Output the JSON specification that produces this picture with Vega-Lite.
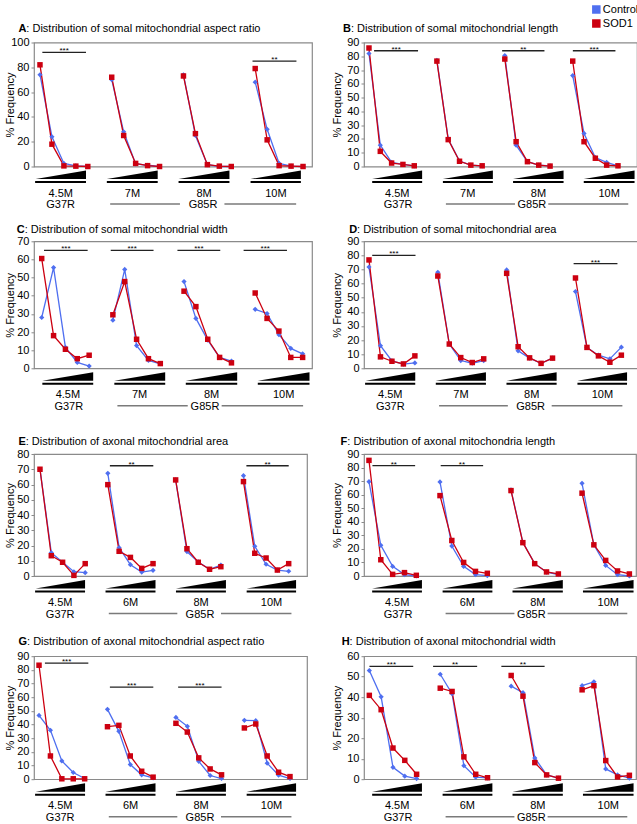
{
"$schema": "https://vega.github.io/schema/vega-lite/v6.json",
"padding": {"left": 3, "top": 2.5, "right": 0, "bottom": 0},
"config": {
  "font": "Liberation Sans",
  "view": {"stroke": "#8a8a8a", "strokeWidth": 1.2},
  "axis": {"labelFont": "Liberation Sans", "labelFontSize": 11, "labelColor": "#000", "titleFont": "Liberation Sans", "titleFontSize": 11, "titleFontWeight": "normal", "titleColor": "#000", "tickColor": "#8a8a8a", "tickSize": 3, "domain": false, "grid": false, "labelPadding": 2},
  "text": {"font": "Liberation Sans", "fontSize": 11, "color": "#000"}
},
"datasets": {
"pts": [
{"p":"A","g":0,"c":0,"Control":74,"SOD1":82},{"p":"A","g":0,"c":1,"Control":24,"SOD1":18},{"p":"A","g":0,"c":2,"Control":2.5,"SOD1":0.5},{"p":"A","g":0,"c":3,"Control":0.5,"SOD1":0.3},{"p":"A","g":0,"c":4,"Control":0,"SOD1":0},
{"p":"A","g":1,"c":6,"Control":70,"SOD1":72},{"p":"A","g":1,"c":7,"Control":28,"SOD1":25},{"p":"A","g":1,"c":8,"Control":2,"SOD1":2.5},{"p":"A","g":1,"c":9,"Control":1,"SOD1":0.7},{"p":"A","g":1,"c":10,"Control":0,"SOD1":0},
{"p":"A","g":2,"c":12,"Control":74,"SOD1":73},{"p":"A","g":2,"c":13,"Control":25,"SOD1":26.5},{"p":"A","g":2,"c":14,"Control":1.5,"SOD1":1.5},{"p":"A","g":2,"c":15,"Control":0,"SOD1":0.3},{"p":"A","g":2,"c":16,"Control":0,"SOD1":0},
{"p":"A","g":3,"c":18,"Control":68,"SOD1":79},{"p":"A","g":3,"c":19,"Control":30,"SOD1":21.5},{"p":"A","g":3,"c":20,"Control":2.5,"SOD1":0.7},{"p":"A","g":3,"c":21,"Control":0.3,"SOD1":0.3},{"p":"A","g":3,"c":22,"Control":0,"SOD1":0},
{"p":"B","g":0,"c":0,"Control":82,"SOD1":86},{"p":"B","g":0,"c":1,"Control":15.5,"SOD1":11},{"p":"B","g":0,"c":2,"Control":3,"SOD1":2.5},{"p":"B","g":0,"c":3,"Control":1.5,"SOD1":1.5},{"p":"B","g":0,"c":4,"Control":0.5,"SOD1":0.5},
{"p":"B","g":1,"c":6,"Control":77,"SOD1":76.5},{"p":"B","g":1,"c":7,"Control":20,"SOD1":19.5},{"p":"B","g":1,"c":8,"Control":4,"SOD1":3.8},{"p":"B","g":1,"c":9,"Control":1,"SOD1":1},{"p":"B","g":1,"c":10,"Control":0.5,"SOD1":0.5},
{"p":"B","g":2,"c":12,"Control":80.5,"SOD1":78},{"p":"B","g":2,"c":13,"Control":15.5,"SOD1":18},{"p":"B","g":2,"c":14,"Control":3.5,"SOD1":3.5},{"p":"B","g":2,"c":15,"Control":1,"SOD1":1},{"p":"B","g":2,"c":16,"Control":0.5,"SOD1":0.3},
{"p":"B","g":3,"c":18,"Control":66,"SOD1":76.5},{"p":"B","g":3,"c":19,"Control":24,"SOD1":18},{"p":"B","g":3,"c":20,"Control":6.5,"SOD1":6},{"p":"B","g":3,"c":21,"Control":3,"SOD1":1},{"p":"B","g":3,"c":22,"Control":0.5,"SOD1":0.5},
{"p":"C","g":0,"c":0,"Control":28,"SOD1":60.5},{"p":"C","g":0,"c":1,"Control":55.5,"SOD1":18},{"p":"C","g":0,"c":2,"Control":11.5,"SOD1":10.5},{"p":"C","g":0,"c":3,"Control":3.2,"SOD1":5.3},{"p":"C","g":0,"c":4,"Control":1.2,"SOD1":7.2},
{"p":"C","g":1,"c":6,"Control":26.5,"SOD1":29.5},{"p":"C","g":1,"c":7,"Control":54.5,"SOD1":47.8},{"p":"C","g":1,"c":8,"Control":12.5,"SOD1":16},{"p":"C","g":1,"c":9,"Control":4.3,"SOD1":5.3},{"p":"C","g":1,"c":10,"Control":2.5,"SOD1":2.6},
{"p":"C","g":2,"c":12,"Control":47.8,"SOD1":42.5},{"p":"C","g":2,"c":13,"Control":27.5,"SOD1":34},{"p":"C","g":2,"c":14,"Control":15.5,"SOD1":16},{"p":"C","g":2,"c":15,"Control":6,"SOD1":6},{"p":"C","g":2,"c":16,"Control":4,"SOD1":3},
{"p":"C","g":3,"c":18,"Control":32.5,"SOD1":41.5},{"p":"C","g":3,"c":19,"Control":30.2,"SOD1":27.5},{"p":"C","g":3,"c":20,"Control":18.5,"SOD1":20.5},{"p":"C","g":3,"c":21,"Control":11,"SOD1":6},{"p":"C","g":3,"c":22,"Control":8,"SOD1":6},
{"p":"D","g":0,"c":0,"Control":71.8,"SOD1":76.8},{"p":"D","g":0,"c":1,"Control":16,"SOD1":8.1},{"p":"D","g":0,"c":2,"Control":5.3,"SOD1":5},{"p":"D","g":0,"c":3,"Control":3,"SOD1":3.1},{"p":"D","g":0,"c":4,"Control":3.8,"SOD1":8.8},
{"p":"D","g":1,"c":6,"Control":68,"SOD1":65.4},{"p":"D","g":1,"c":7,"Control":17.2,"SOD1":17.2},{"p":"D","g":1,"c":8,"Control":5.5,"SOD1":7.6},{"p":"D","g":1,"c":9,"Control":3.6,"SOD1":4.1},{"p":"D","g":1,"c":10,"Control":5.5,"SOD1":6.7},
{"p":"D","g":2,"c":12,"Control":69.7,"SOD1":67.3},{"p":"D","g":2,"c":13,"Control":12.4,"SOD1":15.3},{"p":"D","g":2,"c":14,"Control":7.2,"SOD1":7.4},{"p":"D","g":2,"c":15,"Control":3.5,"SOD1":3.5},{"p":"D","g":2,"c":16,"Control":7.2,"SOD1":7.2},
{"p":"D","g":3,"c":18,"Control":54.4,"SOD1":64},{"p":"D","g":3,"c":19,"Control":14.8,"SOD1":14.8},{"p":"D","g":3,"c":20,"Control":9.3,"SOD1":8.8},{"p":"D","g":3,"c":21,"Control":6.7,"SOD1":4.3},{"p":"D","g":3,"c":22,"Control":15,"SOD1":9.3},
{"p":"E","g":0,"c":0,"Control":70,"SOD1":70},{"p":"E","g":0,"c":1,"Control":15.3,"SOD1":13.3},{"p":"E","g":0,"c":2,"Control":9,"SOD1":9},{"p":"E","g":0,"c":3,"Control":2.8,"SOD1":0.4},{"p":"E","g":0,"c":4,"Control":2.2,"SOD1":8.1},
{"p":"E","g":1,"c":6,"Control":67.3,"SOD1":59.9},{"p":"E","g":1,"c":7,"Control":18.6,"SOD1":16.2},{"p":"E","g":1,"c":8,"Control":7.4,"SOD1":12.2},{"p":"E","g":1,"c":9,"Control":2.6,"SOD1":5},{"p":"E","g":1,"c":10,"Control":3.7,"SOD1":8.1},
{"p":"E","g":2,"c":12,"Control":63,"SOD1":63},{"p":"E","g":2,"c":13,"Control":16,"SOD1":17.9},{"p":"E","g":2,"c":14,"Control":9.2,"SOD1":9},{"p":"E","g":2,"c":15,"Control":4.4,"SOD1":4.4},{"p":"E","g":2,"c":16,"Control":7.2,"SOD1":6.1},
{"p":"E","g":3,"c":18,"Control":65.8,"SOD1":61.9},{"p":"E","g":3,"c":19,"Control":19.5,"SOD1":14.9},{"p":"E","g":3,"c":20,"Control":7.7,"SOD1":11.8},{"p":"E","g":3,"c":21,"Control":3.9,"SOD1":3.9},{"p":"E","g":3,"c":22,"Control":3.1,"SOD1":8.1},
{"p":"F","g":0,"c":0,"Control":69.6,"SOD1":85.3},{"p":"F","g":0,"c":1,"Control":22.6,"SOD1":12},{"p":"F","g":0,"c":2,"Control":7.1,"SOD1":1.2},{"p":"F","g":0,"c":3,"Control":1,"SOD1":2.5},{"p":"F","g":0,"c":4,"Control":0,"SOD1":0.5},
{"p":"F","g":1,"c":6,"Control":69.4,"SOD1":59.3},{"p":"F","g":1,"c":7,"Control":22.1,"SOD1":26.2},{"p":"F","g":1,"c":8,"Control":7.1,"SOD1":10},{"p":"F","g":1,"c":9,"Control":1,"SOD1":3.4},{"p":"F","g":1,"c":10,"Control":0.3,"SOD1":2},
{"p":"F","g":2,"c":12,"Control":63.5,"SOD1":63},{"p":"F","g":2,"c":13,"Control":24.8,"SOD1":24.6},{"p":"F","g":2,"c":14,"Control":9.1,"SOD1":9.1},{"p":"F","g":2,"c":15,"Control":2.9,"SOD1":3},{"p":"F","g":2,"c":16,"Control":1,"SOD1":1.5},
{"p":"F","g":3,"c":18,"Control":68.4,"SOD1":61.1},{"p":"F","g":3,"c":19,"Control":23,"SOD1":23},{"p":"F","g":3,"c":20,"Control":7.8,"SOD1":11.5},{"p":"F","g":3,"c":21,"Control":1,"SOD1":3.7},{"p":"F","g":3,"c":22,"Control":0,"SOD1":1.5},
{"p":"G","g":0,"c":0,"Control":46.7,"SOD1":83.4},{"p":"G","g":0,"c":1,"Control":35.8,"SOD1":17},{"p":"G","g":0,"c":2,"Control":13.4,"SOD1":0.3},{"p":"G","g":0,"c":3,"Control":4.9,"SOD1":0.3},{"p":"G","g":0,"c":4,"Control":0.5,"SOD1":0.3},
{"p":"G","g":1,"c":6,"Control":51.1,"SOD1":38.4},{"p":"G","g":1,"c":7,"Control":35,"SOD1":39.4},{"p":"G","g":1,"c":8,"Control":10.7,"SOD1":17},{"p":"G","g":1,"c":9,"Control":3.2,"SOD1":5.8},{"p":"G","g":1,"c":10,"Control":1,"SOD1":1.5},
{"p":"G","g":2,"c":12,"Control":45.2,"SOD1":40.9},{"p":"G","g":2,"c":13,"Control":38.7,"SOD1":34.5},{"p":"G","g":2,"c":14,"Control":13.1,"SOD1":15.6},{"p":"G","g":2,"c":15,"Control":2.7,"SOD1":7.5},{"p":"G","g":2,"c":16,"Control":0.5,"SOD1":3.2},
{"p":"G","g":3,"c":18,"Control":43.1,"SOD1":37.5},{"p":"G","g":3,"c":19,"Control":42.8,"SOD1":40.4},{"p":"G","g":3,"c":20,"Control":11.7,"SOD1":17},{"p":"G","g":3,"c":21,"Control":2.9,"SOD1":5.1},{"p":"G","g":3,"c":22,"Control":0.5,"SOD1":1.9},
{"p":"H","g":0,"c":0,"Control":53,"SOD1":40.9},{"p":"H","g":0,"c":1,"Control":40.2,"SOD1":33.9},{"p":"H","g":0,"c":2,"Control":5.8,"SOD1":15.2},{"p":"H","g":0,"c":3,"Control":1.5,"SOD1":9.2},{"p":"H","g":0,"c":4,"Control":0.3,"SOD1":2.4},
{"p":"H","g":1,"c":6,"Control":51.2,"SOD1":44.4},{"p":"H","g":1,"c":7,"Control":41.7,"SOD1":42.8},{"p":"H","g":1,"c":8,"Control":6.6,"SOD1":10.9},{"p":"H","g":1,"c":9,"Control":1,"SOD1":2.4},{"p":"H","g":1,"c":10,"Control":0.6,"SOD1":0.7},
{"p":"H","g":2,"c":12,"Control":45.4,"SOD1":50.6},{"p":"H","g":2,"c":13,"Control":42.2,"SOD1":40.5},{"p":"H","g":2,"c":14,"Control":10.4,"SOD1":8.1},{"p":"H","g":2,"c":15,"Control":2.1,"SOD1":2.1},{"p":"H","g":2,"c":16,"Control":0.5,"SOD1":0.5},
{"p":"H","g":3,"c":18,"Control":45.6,"SOD1":43.6},{"p":"H","g":3,"c":19,"Control":47.5,"SOD1":45.6},{"p":"H","g":3,"c":20,"Control":5,"SOD1":9.1},{"p":"H","g":3,"c":21,"Control":2.1,"SOD1":1.1},{"p":"H","g":3,"c":22,"Control":0.5,"SOD1":1.9}
],
"sig": [
{"p":"A","x":3,"x2":18.7,"y":92,"t":"***"},{"p":"A","x":78.6,"x2":94.4,"y":85,"t":"**"},
{"p":"B","x":3.7,"x2":19.8,"y":84,"t":"***"},{"p":"B","x":50.6,"x2":66.1,"y":84,"t":"**"},{"p":"B","x":76.5,"x2":92.1,"y":84,"t":"***"},
{"p":"C","x":3.6,"x2":19.3,"y":65,"t":"***"},{"p":"C","x":27.6,"x2":43,"y":65,"t":"***"},{"p":"C","x":51.6,"x2":67,"y":65,"t":"***"},{"p":"C","x":75.4,"x2":91,"y":65,"t":"***"},
{"p":"D","x":3,"x2":18.8,"y":80,"t":"***"},{"p":"D","x":76.5,"x2":92.5,"y":74.2,"t":"***"},
{"p":"E","x":27.8,"x2":43.7,"y":72.3,"t":"**"},{"p":"E","x":77.8,"x2":93.3,"y":72.3,"t":"**"},
{"p":"F","x":3.1,"x2":18.8,"y":81.4,"t":"**"},{"p":"F","x":28.2,"x2":43.8,"y":81.4,"t":"**"},
{"p":"G","x":4,"x2":19.9,"y":84.9,"t":"***"},{"p":"G","x":27.8,"x2":43.7,"y":67.4,"t":"***"},{"p":"G","x":52.8,"x2":68.7,"y":67.4,"t":"***"},
{"p":"H","x":2,"x2":18.1,"y":55,"t":"***"},{"p":"H","x":25.4,"x2":41.6,"y":55,"t":"**"},{"p":"H","x":50.5,"x2":66.4,"y":55,"t":"**"}
],
"wE": [{"w":0,"x":0.6,"r":0},{"w":0,"x":18.7,"r":1},{"w":1,"x":26.2,"r":0},{"w":1,"x":44.5,"r":1},{"w":2,"x":52,"r":0},{"w":2,"x":70.3,"r":1},{"w":3,"x":77.9,"r":0},{"w":3,"x":96,"r":1}],
"wL": [{"w":0,"x":3,"r":0},{"w":0,"x":21.3,"r":1},{"w":1,"x":28.9,"r":0},{"w":1,"x":47.2,"r":1},{"w":2,"x":54.6,"r":0},{"w":2,"x":73.1,"r":1},{"w":3,"x":80.5,"r":0},{"w":3,"x":99.1,"r":1}],
"sE": [{"k":"b","x":0.4,"x2":18.7},{"k":"b","x":26.2,"x2":44.5},{"k":"b","x":52,"x2":70.3},{"k":"b","x":77.9,"x2":96},{"k":"g","x":27.4,"x2":52.5},{"k":"g","x":68.5,"x2":94.3}],
"sL": [{"k":"b","x":3,"x2":21.3},{"k":"b","x":28.9,"x2":47.2},{"k":"b","x":54.6,"x2":73.1},{"k":"b","x":80.5,"x2":99.1},{"k":"g","x":30,"x2":55.3},{"k":"g","x":67.5,"x2":96.8}],
"lab": [{"k":"age","xE":9.6,"xL":12.2,"som":"4.5M","axo":"4.5M"},{"k":"age","xE":35.4,"xL":38,"som":"7M","axo":"6M"},{"k":"age","xE":61.2,"xL":63.9,"som":"8M","axo":"8M"},{"k":"age","xE":87,"xL":89.8,"som":"10M","axo":"10M"},{"k":"geno","xE":9.6,"xL":12.5,"som":"G37R","axo":"G37R"},{"k":"geno","xE":60.8,"xL":61.5,"som":"G85R","axo":"G85R"}],
"legend": [{"s":"Control"},{"s":"SOD1"}],
"titles": [
{"p":"A","L":"A","t":": Distribution of somal mitochondrial aspect ratio"},
{"p":"B","L":"B","t":": Distribution of somal mitochondrial length"},
{"p":"C","L":"C","t":": Distribution of somal  mitochondrial width"},
{"p":"D","L":"D","t":": Distribution of somal mitochondrial area"},
{"p":"E","L":"E","t":": Distribution of axonal mitochondrial area"},
{"p":"F","L":"F","t":": Distribution of axonal mitochondria length"},
{"p":"G","L":"G","t":": Distribution of axonal mitochondrial aspect ratio"},
{"p":"H","L":"H","t":": Distribution of axonal mitochondrial width"}
]
},
"spacing": 22.5,
"vconcat": [
{"spacing": 11.8, "vconcat": [
{"spacing": 17, "hconcat": [
{"width": 278, "height": 124, "resolve": {"scale": {"x": "independent", "y": "independent"}}, "layer": [
{"data": {"name": "pts"}, "transform": [{"filter": "datum.p == 'A'"}, {"fold": ["Control", "SOD1"], "as": ["s", "v"]}], "mark": {"type": "line", "strokeWidth": 1.3},
 "encoding": {"x": {"field": "c", "type": "quantitative", "scale": {"domain": [-0.5, 22.75], "nice": false}, "axis": null},
  "y": {"field": "v", "type": "quantitative", "scale": {"domain": [0, 100], "nice": false}, "axis": {"values": [0, 20, 40, 60, 80, 100], "title": "% Frequency", "titleX": -24, "titleBaseline": "middle"}},
  "stroke": {"field": "s", "type": "nominal", "scale": {"domain": ["Control", "SOD1"], "range": ["#4f6ff0", "#cc0010"]}, "legend": null},
  "detail": {"field": "g", "type": "nominal"}}},
{"data": {"name": "pts"}, "transform": [{"filter": "datum.p == 'A'"}, {"fold": ["Control", "SOD1"], "as": ["s", "v"]}], "mark": {"type": "point", "filled": true, "opacity": 1, "strokeWidth": 0},
 "encoding": {"x": {"field": "c", "type": "quantitative", "scale": {"domain": [-0.5, 22.75], "nice": false}, "axis": null},
  "y": {"field": "v", "type": "quantitative", "scale": {"domain": [0, 100], "nice": false}, "axis": null},
  "color": {"field": "s", "type": "nominal", "scale": {"domain": ["Control", "SOD1"], "range": ["#4f6ff0", "#cc0010"]}, "legend": null},
  "shape": {"field": "s", "type": "nominal", "scale": {"domain": ["Control", "SOD1"], "range": ["diamond", "square"]}, "legend": null},
  "size": {"field": "s", "type": "ordinal", "scale": {"domain": ["Control", "SOD1"], "range": [27, 30]}, "legend": null}}},
{"data": {"name": "sig"}, "transform": [{"filter": "datum.p == 'A'"}], "mark": {"type": "rule", "color": "#222", "strokeWidth": 1.3},
 "encoding": {"x": {"field": "x", "type": "quantitative", "scale": {"domain": [0, 100], "nice": false}, "axis": null}, "x2": {"field": "x2"},
  "y": {"field": "y", "type": "quantitative", "scale": {"domain": [0, 100], "nice": false}, "axis": null}}},
{"data": {"name": "sig"}, "transform": [{"filter": "datum.p == 'A'"}, {"calculate": "(datum.x + datum.x2) / 2", "as": "m"}], "mark": {"type": "text", "fontSize": 8, "baseline": "alphabetic", "dy": 1},
 "encoding": {"x": {"field": "m", "type": "quantitative", "scale": {"domain": [0, 100], "nice": false}, "axis": null},
  "y": {"field": "y", "type": "quantitative", "scale": {"domain": [0, 100], "nice": false}, "axis": null}, "text": {"field": "t"}}},
{"data": {"name": "wE"}, "mark": {"type": "area", "color": "#000"},
 "encoding": {"x": {"field": "x", "type": "quantitative", "scale": {"domain": [0, 100], "nice": false}, "axis": null},
  "y": {"field": "r", "type": "quantitative", "scale": {"domain": [0, 1], "range": [136.5, 128], "nice": false}, "axis": null}, "y2": {"datum": 0}, "detail": {"field": "w", "type": "nominal"}}},
{"data": {"name": "sE"}, "transform": [{"filter": "datum.k == 'b'"}], "mark": {"type": "rule", "color": "#000", "strokeWidth": 2},
 "encoding": {"x": {"field": "x", "type": "quantitative", "scale": {"domain": [0, 100], "nice": false}, "axis": null}, "x2": {"field": "x2"},
  "y": {"datum": 15.5, "type": "quantitative", "scale": {"domain": [0, 50], "range": [124, 174], "nice": false}, "axis": null}}},
{"data": {"name": "sE"}, "transform": [{"filter": "datum.k == 'g'"}], "mark": {"type": "rule", "color": "#7a7a7a", "strokeWidth": 1.5},
 "encoding": {"x": {"field": "x", "type": "quantitative", "scale": {"domain": [0, 100], "nice": false}, "axis": null}, "x2": {"field": "x2"},
  "y": {"datum": 37.5, "type": "quantitative", "scale": {"domain": [0, 50], "range": [124, 174], "nice": false}, "axis": null}}},
{"data": {"name": "lab"}, "transform": [{"filter": "datum.k == 'age'"}], "mark": {"type": "text", "baseline": "middle"},
 "encoding": {"x": {"field": "xE", "type": "quantitative", "scale": {"domain": [0, 100], "nice": false}, "axis": null},
  "y": {"datum": 27, "type": "quantitative", "scale": {"domain": [0, 50], "range": [124, 174], "nice": false}, "axis": null}, "text": {"field": "som"}}},
{"data": {"name": "lab"}, "transform": [{"filter": "datum.k == 'geno'"}], "mark": {"type": "text", "baseline": "middle"},
 "encoding": {"x": {"field": "xE", "type": "quantitative", "scale": {"domain": [0, 100], "nice": false}, "axis": null},
  "y": {"datum": 38.5, "type": "quantitative", "scale": {"domain": [0, 50], "range": [124, 174], "nice": false}, "axis": null}, "text": {"field": "som"}}},
{"data": {"name": "titles"}, "transform": [{"filter": "datum.p == 'A'"}], "mark": {"type": "text", "fontWeight": "bold", "align": "left", "baseline": "middle"},
 "encoding": {"x": {"datum": -5.6, "type": "quantitative", "scale": {"domain": [0, 100], "nice": false}, "axis": null},
  "y": {"datum": 14, "type": "quantitative", "scale": {"domain": [0, 50], "range": [0, -50], "nice": false}, "axis": null}, "text": {"field": "L"}}},
{"data": {"name": "titles"}, "transform": [{"filter": "datum.p == 'A'"}], "mark": {"type": "text", "align": "left", "baseline": "middle", "dx": 7.9},
 "encoding": {"x": {"datum": -5.6, "type": "quantitative", "scale": {"domain": [0, 100], "nice": false}, "axis": null},
  "y": {"datum": 14, "type": "quantitative", "scale": {"domain": [0, 50], "range": [0, -50], "nice": false}, "axis": null}, "text": {"field": "t"}}}
]},
{"width": 273, "height": 124, "resolve": {"scale": {"x": "independent", "y": "independent"}}, "layer": [
{"data": {"name": "pts"}, "transform": [{"filter": "datum.p == 'B'"}, {"fold": ["Control", "SOD1"], "as": ["s", "v"]}], "mark": {"type": "line", "strokeWidth": 1.3},
 "encoding": {"x": {"field": "c", "type": "quantitative", "scale": {"domain": [-0.44, 23.68], "nice": false}, "axis": null},
  "y": {"field": "v", "type": "quantitative", "scale": {"domain": [0, 90], "nice": false}, "axis": {"values": [0, 10, 20, 30, 40, 50, 60, 70, 80, 90], "title": "% Frequency", "titleX": -26.7, "titleBaseline": "middle"}},
  "stroke": {"field": "s", "type": "nominal", "scale": {"domain": ["Control", "SOD1"], "range": ["#4f6ff0", "#cc0010"]}, "legend": null},
  "detail": {"field": "g", "type": "nominal"}}},
{"data": {"name": "pts"}, "transform": [{"filter": "datum.p == 'B'"}, {"fold": ["Control", "SOD1"], "as": ["s", "v"]}], "mark": {"type": "point", "filled": true, "opacity": 1, "strokeWidth": 0},
 "encoding": {"x": {"field": "c", "type": "quantitative", "scale": {"domain": [-0.44, 23.68], "nice": false}, "axis": null},
  "y": {"field": "v", "type": "quantitative", "scale": {"domain": [0, 90], "nice": false}, "axis": null},
  "color": {"field": "s", "type": "nominal", "scale": {"domain": ["Control", "SOD1"], "range": ["#4f6ff0", "#cc0010"]}, "legend": null},
  "shape": {"field": "s", "type": "nominal", "scale": {"domain": ["Control", "SOD1"], "range": ["diamond", "square"]}, "legend": null},
  "size": {"field": "s", "type": "ordinal", "scale": {"domain": ["Control", "SOD1"], "range": [27, 30]}, "legend": null}}},
{"data": {"name": "legend"}, "mark": {"type": "square", "filled": true, "size": 72, "opacity": 1, "strokeWidth": 0},
 "encoding": {"x": {"datum": 85.1, "type": "quantitative", "scale": {"domain": [0, 100], "nice": false}, "axis": null},
  "y": {"field": "s", "type": "nominal", "scale": {"type": "point", "domain": ["Control", "SOD1"], "range": [-33, -19], "padding": 0}, "axis": null},
  "color": {"field": "s", "type": "nominal", "scale": {"domain": ["Control", "SOD1"], "range": ["#4f6ff0", "#cc0010"]}, "legend": null}}},
{"data": {"name": "legend"}, "mark": {"type": "text", "align": "left", "baseline": "middle", "dx": 6.5},
 "encoding": {"x": {"datum": 85.1, "type": "quantitative", "scale": {"domain": [0, 100], "nice": false}, "axis": null},
  "y": {"field": "s", "type": "nominal", "scale": {"type": "point", "domain": ["Control", "SOD1"], "range": [-33, -19], "padding": 0}, "axis": null},
  "text": {"field": "s"}}},
{"data": {"name": "sig"}, "transform": [{"filter": "datum.p == 'B'"}], "mark": {"type": "rule", "color": "#222", "strokeWidth": 1.3},
 "encoding": {"x": {"field": "x", "type": "quantitative", "scale": {"domain": [0, 100], "nice": false}, "axis": null}, "x2": {"field": "x2"},
  "y": {"field": "y", "type": "quantitative", "scale": {"domain": [0, 90], "nice": false}, "axis": null}}},
{"data": {"name": "sig"}, "transform": [{"filter": "datum.p == 'B'"}, {"calculate": "(datum.x + datum.x2) / 2", "as": "m"}], "mark": {"type": "text", "fontSize": 8, "baseline": "alphabetic", "dy": 1},
 "encoding": {"x": {"field": "m", "type": "quantitative", "scale": {"domain": [0, 100], "nice": false}, "axis": null},
  "y": {"field": "y", "type": "quantitative", "scale": {"domain": [0, 90], "nice": false}, "axis": null}, "text": {"field": "t"}}},
{"data": {"name": "wL"}, "mark": {"type": "area", "color": "#000"},
 "encoding": {"x": {"field": "x", "type": "quantitative", "scale": {"domain": [0, 100], "nice": false}, "axis": null},
  "y": {"field": "r", "type": "quantitative", "scale": {"domain": [0, 1], "range": [136.5, 128], "nice": false}, "axis": null}, "y2": {"datum": 0}, "detail": {"field": "w", "type": "nominal"}}},
{"data": {"name": "sL"}, "transform": [{"filter": "datum.k == 'b'"}], "mark": {"type": "rule", "color": "#000", "strokeWidth": 2},
 "encoding": {"x": {"field": "x", "type": "quantitative", "scale": {"domain": [0, 100], "nice": false}, "axis": null}, "x2": {"field": "x2"},
  "y": {"datum": 15.5, "type": "quantitative", "scale": {"domain": [0, 50], "range": [124, 174], "nice": false}, "axis": null}}},
{"data": {"name": "sL"}, "transform": [{"filter": "datum.k == 'g'"}], "mark": {"type": "rule", "color": "#7a7a7a", "strokeWidth": 1.5},
 "encoding": {"x": {"field": "x", "type": "quantitative", "scale": {"domain": [0, 100], "nice": false}, "axis": null}, "x2": {"field": "x2"},
  "y": {"datum": 37.5, "type": "quantitative", "scale": {"domain": [0, 50], "range": [124, 174], "nice": false}, "axis": null}}},
{"data": {"name": "lab"}, "transform": [{"filter": "datum.k == 'age'"}], "mark": {"type": "text", "baseline": "middle"},
 "encoding": {"x": {"field": "xL", "type": "quantitative", "scale": {"domain": [0, 100], "nice": false}, "axis": null},
  "y": {"datum": 27, "type": "quantitative", "scale": {"domain": [0, 50], "range": [124, 174], "nice": false}, "axis": null}, "text": {"field": "som"}}},
{"data": {"name": "lab"}, "transform": [{"filter": "datum.k == 'geno'"}], "mark": {"type": "text", "baseline": "middle"},
 "encoding": {"x": {"field": "xL", "type": "quantitative", "scale": {"domain": [0, 100], "nice": false}, "axis": null},
  "y": {"datum": 38.5, "type": "quantitative", "scale": {"domain": [0, 50], "range": [124, 174], "nice": false}, "axis": null}, "text": {"field": "som"}}},
{"data": {"name": "titles"}, "transform": [{"filter": "datum.p == 'B'"}], "mark": {"type": "text", "fontWeight": "bold", "align": "left", "baseline": "middle"},
 "encoding": {"x": {"datum": -7.7, "type": "quantitative", "scale": {"domain": [0, 100], "nice": false}, "axis": null},
  "y": {"datum": 14, "type": "quantitative", "scale": {"domain": [0, 50], "range": [0, -50], "nice": false}, "axis": null}, "text": {"field": "L"}}},
{"data": {"name": "titles"}, "transform": [{"filter": "datum.p == 'B'"}], "mark": {"type": "text", "align": "left", "baseline": "middle", "dx": 7.9},
 "encoding": {"x": {"datum": -7.7, "type": "quantitative", "scale": {"domain": [0, 100], "nice": false}, "axis": null},
  "y": {"datum": 14, "type": "quantitative", "scale": {"domain": [0, 50], "range": [0, -50], "nice": false}, "axis": null}, "text": {"field": "t"}}}
]}
]},
{"spacing": 17, "hconcat": [
{"width": 278, "height": 127, "resolve": {"scale": {"x": "independent", "y": "independent"}}, "layer": [
{"data": {"name": "pts"}, "transform": [{"filter": "datum.p == 'C'"}, {"fold": ["Control", "SOD1"], "as": ["s", "v"]}], "mark": {"type": "line", "strokeWidth": 1.3},
 "encoding": {"x": {"field": "c", "type": "quantitative", "scale": {"domain": [-0.65, 22.79], "nice": false}, "axis": null},
  "y": {"field": "v", "type": "quantitative", "scale": {"domain": [0, 70], "nice": false}, "axis": {"values": [0, 10, 20, 30, 40, 50, 60, 70], "title": "% Frequency", "titleX": -24, "titleBaseline": "middle"}},
  "stroke": {"field": "s", "type": "nominal", "scale": {"domain": ["Control", "SOD1"], "range": ["#4f6ff0", "#cc0010"]}, "legend": null},
  "detail": {"field": "g", "type": "nominal"}}},
{"data": {"name": "pts"}, "transform": [{"filter": "datum.p == 'C'"}, {"fold": ["Control", "SOD1"], "as": ["s", "v"]}], "mark": {"type": "point", "filled": true, "opacity": 1, "strokeWidth": 0},
 "encoding": {"x": {"field": "c", "type": "quantitative", "scale": {"domain": [-0.65, 22.79], "nice": false}, "axis": null},
  "y": {"field": "v", "type": "quantitative", "scale": {"domain": [0, 70], "nice": false}, "axis": null},
  "color": {"field": "s", "type": "nominal", "scale": {"domain": ["Control", "SOD1"], "range": ["#4f6ff0", "#cc0010"]}, "legend": null},
  "shape": {"field": "s", "type": "nominal", "scale": {"domain": ["Control", "SOD1"], "range": ["diamond", "square"]}, "legend": null},
  "size": {"field": "s", "type": "ordinal", "scale": {"domain": ["Control", "SOD1"], "range": [27, 30]}, "legend": null}}},
{"data": {"name": "sig"}, "transform": [{"filter": "datum.p == 'C'"}], "mark": {"type": "rule", "color": "#222", "strokeWidth": 1.3},
 "encoding": {"x": {"field": "x", "type": "quantitative", "scale": {"domain": [0, 100], "nice": false}, "axis": null}, "x2": {"field": "x2"},
  "y": {"field": "y", "type": "quantitative", "scale": {"domain": [0, 70], "nice": false}, "axis": null}}},
{"data": {"name": "sig"}, "transform": [{"filter": "datum.p == 'C'"}, {"calculate": "(datum.x + datum.x2) / 2", "as": "m"}], "mark": {"type": "text", "fontSize": 8, "baseline": "alphabetic", "dy": 1},
 "encoding": {"x": {"field": "m", "type": "quantitative", "scale": {"domain": [0, 100], "nice": false}, "axis": null},
  "y": {"field": "y", "type": "quantitative", "scale": {"domain": [0, 70], "nice": false}, "axis": null}, "text": {"field": "t"}}},
{"data": {"name": "wL"}, "mark": {"type": "area", "color": "#000"},
 "encoding": {"x": {"field": "x", "type": "quantitative", "scale": {"domain": [0, 100], "nice": false}, "axis": null},
  "y": {"field": "r", "type": "quantitative", "scale": {"domain": [0, 1], "range": [139.5, 131], "nice": false}, "axis": null}, "y2": {"datum": 0}, "detail": {"field": "w", "type": "nominal"}}},
{"data": {"name": "sL"}, "transform": [{"filter": "datum.k == 'b'"}], "mark": {"type": "rule", "color": "#000", "strokeWidth": 2},
 "encoding": {"x": {"field": "x", "type": "quantitative", "scale": {"domain": [0, 100], "nice": false}, "axis": null}, "x2": {"field": "x2"},
  "y": {"datum": 15.5, "type": "quantitative", "scale": {"domain": [0, 50], "range": [127, 177], "nice": false}, "axis": null}}},
{"data": {"name": "sL"}, "transform": [{"filter": "datum.k == 'g'"}], "mark": {"type": "rule", "color": "#7a7a7a", "strokeWidth": 1.5},
 "encoding": {"x": {"field": "x", "type": "quantitative", "scale": {"domain": [0, 100], "nice": false}, "axis": null}, "x2": {"field": "x2"},
  "y": {"datum": 37.5, "type": "quantitative", "scale": {"domain": [0, 50], "range": [127, 177], "nice": false}, "axis": null}}},
{"data": {"name": "lab"}, "transform": [{"filter": "datum.k == 'age'"}], "mark": {"type": "text", "baseline": "middle"},
 "encoding": {"x": {"field": "xL", "type": "quantitative", "scale": {"domain": [0, 100], "nice": false}, "axis": null},
  "y": {"datum": 27, "type": "quantitative", "scale": {"domain": [0, 50], "range": [127, 177], "nice": false}, "axis": null}, "text": {"field": "som"}}},
{"data": {"name": "lab"}, "transform": [{"filter": "datum.k == 'geno'"}], "mark": {"type": "text", "baseline": "middle"},
 "encoding": {"x": {"field": "xL", "type": "quantitative", "scale": {"domain": [0, 100], "nice": false}, "axis": null},
  "y": {"datum": 38.5, "type": "quantitative", "scale": {"domain": [0, 50], "range": [127, 177], "nice": false}, "axis": null}, "text": {"field": "som"}}},
{"data": {"name": "titles"}, "transform": [{"filter": "datum.p == 'C'"}], "mark": {"type": "text", "fontWeight": "bold", "align": "left", "baseline": "middle"},
 "encoding": {"x": {"datum": -6.2, "type": "quantitative", "scale": {"domain": [0, 100], "nice": false}, "axis": null},
  "y": {"datum": 11, "type": "quantitative", "scale": {"domain": [0, 50], "range": [0, -50], "nice": false}, "axis": null}, "text": {"field": "L"}}},
{"data": {"name": "titles"}, "transform": [{"filter": "datum.p == 'C'"}], "mark": {"type": "text", "align": "left", "baseline": "middle", "dx": 7.9},
 "encoding": {"x": {"datum": -6.2, "type": "quantitative", "scale": {"domain": [0, 100], "nice": false}, "axis": null},
  "y": {"datum": 11, "type": "quantitative", "scale": {"domain": [0, 50], "range": [0, -50], "nice": false}, "axis": null}, "text": {"field": "t"}}}
]},
{"width": 274, "height": 127, "resolve": {"scale": {"x": "independent", "y": "independent"}}, "layer": [
{"data": {"name": "pts"}, "transform": [{"filter": "datum.p == 'D'"}, {"fold": ["Control", "SOD1"], "as": ["s", "v"]}], "mark": {"type": "line", "strokeWidth": 1.3},
 "encoding": {"x": {"field": "c", "type": "quantitative", "scale": {"domain": [-0.435, 23.45], "nice": false}, "axis": null},
  "y": {"field": "v", "type": "quantitative", "scale": {"domain": [0, 90], "nice": false}, "axis": {"values": [0, 10, 20, 30, 40, 50, 60, 70, 80, 90], "title": "% Frequency", "titleX": -26.7, "titleBaseline": "middle"}},
  "stroke": {"field": "s", "type": "nominal", "scale": {"domain": ["Control", "SOD1"], "range": ["#4f6ff0", "#cc0010"]}, "legend": null},
  "detail": {"field": "g", "type": "nominal"}}},
{"data": {"name": "pts"}, "transform": [{"filter": "datum.p == 'D'"}, {"fold": ["Control", "SOD1"], "as": ["s", "v"]}], "mark": {"type": "point", "filled": true, "opacity": 1, "strokeWidth": 0},
 "encoding": {"x": {"field": "c", "type": "quantitative", "scale": {"domain": [-0.435, 23.45], "nice": false}, "axis": null},
  "y": {"field": "v", "type": "quantitative", "scale": {"domain": [0, 90], "nice": false}, "axis": null},
  "color": {"field": "s", "type": "nominal", "scale": {"domain": ["Control", "SOD1"], "range": ["#4f6ff0", "#cc0010"]}, "legend": null},
  "shape": {"field": "s", "type": "nominal", "scale": {"domain": ["Control", "SOD1"], "range": ["diamond", "square"]}, "legend": null},
  "size": {"field": "s", "type": "ordinal", "scale": {"domain": ["Control", "SOD1"], "range": [27, 30]}, "legend": null}}},
{"data": {"name": "sig"}, "transform": [{"filter": "datum.p == 'D'"}], "mark": {"type": "rule", "color": "#222", "strokeWidth": 1.3},
 "encoding": {"x": {"field": "x", "type": "quantitative", "scale": {"domain": [0, 100], "nice": false}, "axis": null}, "x2": {"field": "x2"},
  "y": {"field": "y", "type": "quantitative", "scale": {"domain": [0, 90], "nice": false}, "axis": null}}},
{"data": {"name": "sig"}, "transform": [{"filter": "datum.p == 'D'"}, {"calculate": "(datum.x + datum.x2) / 2", "as": "m"}], "mark": {"type": "text", "fontSize": 8, "baseline": "alphabetic", "dy": 1},
 "encoding": {"x": {"field": "m", "type": "quantitative", "scale": {"domain": [0, 100], "nice": false}, "axis": null},
  "y": {"field": "y", "type": "quantitative", "scale": {"domain": [0, 90], "nice": false}, "axis": null}, "text": {"field": "t"}}},
{"data": {"name": "wE"}, "mark": {"type": "area", "color": "#000"},
 "encoding": {"x": {"field": "x", "type": "quantitative", "scale": {"domain": [0, 100], "nice": false}, "axis": null},
  "y": {"field": "r", "type": "quantitative", "scale": {"domain": [0, 1], "range": [139.5, 131], "nice": false}, "axis": null}, "y2": {"datum": 0}, "detail": {"field": "w", "type": "nominal"}}},
{"data": {"name": "sE"}, "transform": [{"filter": "datum.k == 'b'"}], "mark": {"type": "rule", "color": "#000", "strokeWidth": 2},
 "encoding": {"x": {"field": "x", "type": "quantitative", "scale": {"domain": [0, 100], "nice": false}, "axis": null}, "x2": {"field": "x2"},
  "y": {"datum": 15.5, "type": "quantitative", "scale": {"domain": [0, 50], "range": [127, 177], "nice": false}, "axis": null}}},
{"data": {"name": "sE"}, "transform": [{"filter": "datum.k == 'g'"}], "mark": {"type": "rule", "color": "#7a7a7a", "strokeWidth": 1.5},
 "encoding": {"x": {"field": "x", "type": "quantitative", "scale": {"domain": [0, 100], "nice": false}, "axis": null}, "x2": {"field": "x2"},
  "y": {"datum": 37.5, "type": "quantitative", "scale": {"domain": [0, 50], "range": [127, 177], "nice": false}, "axis": null}}},
{"data": {"name": "lab"}, "transform": [{"filter": "datum.k == 'age'"}], "mark": {"type": "text", "baseline": "middle"},
 "encoding": {"x": {"field": "xE", "type": "quantitative", "scale": {"domain": [0, 100], "nice": false}, "axis": null},
  "y": {"datum": 27, "type": "quantitative", "scale": {"domain": [0, 50], "range": [127, 177], "nice": false}, "axis": null}, "text": {"field": "som"}}},
{"data": {"name": "lab"}, "transform": [{"filter": "datum.k == 'geno'"}], "mark": {"type": "text", "baseline": "middle"},
 "encoding": {"x": {"field": "xE", "type": "quantitative", "scale": {"domain": [0, 100], "nice": false}, "axis": null},
  "y": {"datum": 38.5, "type": "quantitative", "scale": {"domain": [0, 50], "range": [127, 177], "nice": false}, "axis": null}, "text": {"field": "som"}}},
{"data": {"name": "titles"}, "transform": [{"filter": "datum.p == 'D'"}], "mark": {"type": "text", "fontWeight": "bold", "align": "left", "baseline": "middle"},
 "encoding": {"x": {"datum": -5.4, "type": "quantitative", "scale": {"domain": [0, 100], "nice": false}, "axis": null},
  "y": {"datum": 11, "type": "quantitative", "scale": {"domain": [0, 50], "range": [0, -50], "nice": false}, "axis": null}, "text": {"field": "L"}}},
{"data": {"name": "titles"}, "transform": [{"filter": "datum.p == 'D'"}], "mark": {"type": "text", "align": "left", "baseline": "middle", "dx": 7.9},
 "encoding": {"x": {"datum": -5.4, "type": "quantitative", "scale": {"domain": [0, 100], "nice": false}, "axis": null},
  "y": {"datum": 11, "type": "quantitative", "scale": {"domain": [0, 50], "range": [0, -50], "nice": false}, "axis": null}, "text": {"field": "t"}}}
]}
]}
]},
{"spacing": 14.2, "vconcat": [
{"spacing": 22, "hconcat": [
{"width": 273, "height": 122, "resolve": {"scale": {"x": "independent", "y": "independent"}}, "layer": [
{"data": {"name": "pts"}, "transform": [{"filter": "datum.p == 'E'"}, {"fold": ["Control", "SOD1"], "as": ["s", "v"]}], "mark": {"type": "line", "strokeWidth": 1.3},
 "encoding": {"x": {"field": "c", "type": "quantitative", "scale": {"domain": [-0.53, 23.62], "nice": false}, "axis": null},
  "y": {"field": "v", "type": "quantitative", "scale": {"domain": [0, 80], "nice": false}, "axis": {"values": [0, 10, 20, 30, 40, 50, 60, 70, 80], "title": "% Frequency", "titleX": -24, "titleBaseline": "middle"}},
  "stroke": {"field": "s", "type": "nominal", "scale": {"domain": ["Control", "SOD1"], "range": ["#4f6ff0", "#cc0010"]}, "legend": null},
  "detail": {"field": "g", "type": "nominal"}}},
{"data": {"name": "pts"}, "transform": [{"filter": "datum.p == 'E'"}, {"fold": ["Control", "SOD1"], "as": ["s", "v"]}], "mark": {"type": "point", "filled": true, "opacity": 1, "strokeWidth": 0},
 "encoding": {"x": {"field": "c", "type": "quantitative", "scale": {"domain": [-0.53, 23.62], "nice": false}, "axis": null},
  "y": {"field": "v", "type": "quantitative", "scale": {"domain": [0, 80], "nice": false}, "axis": null},
  "color": {"field": "s", "type": "nominal", "scale": {"domain": ["Control", "SOD1"], "range": ["#4f6ff0", "#cc0010"]}, "legend": null},
  "shape": {"field": "s", "type": "nominal", "scale": {"domain": ["Control", "SOD1"], "range": ["diamond", "square"]}, "legend": null},
  "size": {"field": "s", "type": "ordinal", "scale": {"domain": ["Control", "SOD1"], "range": [27, 30]}, "legend": null}}},
{"data": {"name": "sig"}, "transform": [{"filter": "datum.p == 'E'"}], "mark": {"type": "rule", "color": "#222", "strokeWidth": 1.3},
 "encoding": {"x": {"field": "x", "type": "quantitative", "scale": {"domain": [0, 100], "nice": false}, "axis": null}, "x2": {"field": "x2"},
  "y": {"field": "y", "type": "quantitative", "scale": {"domain": [0, 80], "nice": false}, "axis": null}}},
{"data": {"name": "sig"}, "transform": [{"filter": "datum.p == 'E'"}, {"calculate": "(datum.x + datum.x2) / 2", "as": "m"}], "mark": {"type": "text", "fontSize": 8, "baseline": "alphabetic", "dy": 1},
 "encoding": {"x": {"field": "m", "type": "quantitative", "scale": {"domain": [0, 100], "nice": false}, "axis": null},
  "y": {"field": "y", "type": "quantitative", "scale": {"domain": [0, 80], "nice": false}, "axis": null}, "text": {"field": "t"}}},
{"data": {"name": "wE"}, "mark": {"type": "area", "color": "#000"},
 "encoding": {"x": {"field": "x", "type": "quantitative", "scale": {"domain": [0, 100], "nice": false}, "axis": null},
  "y": {"field": "r", "type": "quantitative", "scale": {"domain": [0, 1], "range": [134.5, 126], "nice": false}, "axis": null}, "y2": {"datum": 0}, "detail": {"field": "w", "type": "nominal"}}},
{"data": {"name": "sE"}, "transform": [{"filter": "datum.k == 'b'"}], "mark": {"type": "rule", "color": "#000", "strokeWidth": 2},
 "encoding": {"x": {"field": "x", "type": "quantitative", "scale": {"domain": [0, 100], "nice": false}, "axis": null}, "x2": {"field": "x2"},
  "y": {"datum": 15.5, "type": "quantitative", "scale": {"domain": [0, 50], "range": [122, 172], "nice": false}, "axis": null}}},
{"data": {"name": "sE"}, "transform": [{"filter": "datum.k == 'g'"}], "mark": {"type": "rule", "color": "#7a7a7a", "strokeWidth": 1.5},
 "encoding": {"x": {"field": "x", "type": "quantitative", "scale": {"domain": [0, 100], "nice": false}, "axis": null}, "x2": {"field": "x2"},
  "y": {"datum": 37.5, "type": "quantitative", "scale": {"domain": [0, 50], "range": [122, 172], "nice": false}, "axis": null}}},
{"data": {"name": "lab"}, "transform": [{"filter": "datum.k == 'age'"}], "mark": {"type": "text", "baseline": "middle"},
 "encoding": {"x": {"field": "xE", "type": "quantitative", "scale": {"domain": [0, 100], "nice": false}, "axis": null},
  "y": {"datum": 27, "type": "quantitative", "scale": {"domain": [0, 50], "range": [122, 172], "nice": false}, "axis": null}, "text": {"field": "axo"}}},
{"data": {"name": "lab"}, "transform": [{"filter": "datum.k == 'geno'"}], "mark": {"type": "text", "baseline": "middle"},
 "encoding": {"x": {"field": "xE", "type": "quantitative", "scale": {"domain": [0, 100], "nice": false}, "axis": null},
  "y": {"datum": 38.5, "type": "quantitative", "scale": {"domain": [0, 50], "range": [122, 172], "nice": false}, "axis": null}, "text": {"field": "axo"}}},
{"data": {"name": "titles"}, "transform": [{"filter": "datum.p == 'E'"}], "mark": {"type": "text", "fontWeight": "bold", "align": "left", "baseline": "middle"},
 "encoding": {"x": {"datum": -5.7, "type": "quantitative", "scale": {"domain": [0, 100], "nice": false}, "axis": null},
  "y": {"datum": 12, "type": "quantitative", "scale": {"domain": [0, 50], "range": [0, -50], "nice": false}, "axis": null}, "text": {"field": "L"}}},
{"data": {"name": "titles"}, "transform": [{"filter": "datum.p == 'E'"}], "mark": {"type": "text", "align": "left", "baseline": "middle", "dx": 7.3},
 "encoding": {"x": {"datum": -5.7, "type": "quantitative", "scale": {"domain": [0, 100], "nice": false}, "axis": null},
  "y": {"datum": 12, "type": "quantitative", "scale": {"domain": [0, 50], "range": [0, -50], "nice": false}, "axis": null}, "text": {"field": "t"}}}
]},
{"width": 272, "height": 122, "resolve": {"scale": {"x": "independent", "y": "independent"}}, "layer": [
{"data": {"name": "pts"}, "transform": [{"filter": "datum.p == 'F'"}, {"fold": ["Control", "SOD1"], "as": ["s", "v"]}], "mark": {"type": "line", "strokeWidth": 1.3},
 "encoding": {"x": {"field": "c", "type": "quantitative", "scale": {"domain": [-0.42, 22.56], "nice": false}, "axis": null},
  "y": {"field": "v", "type": "quantitative", "scale": {"domain": [0, 90], "nice": false}, "axis": {"values": [0, 10, 20, 30, 40, 50, 60, 70, 80, 90], "title": "% Frequency", "titleX": -26.7, "titleBaseline": "middle"}},
  "stroke": {"field": "s", "type": "nominal", "scale": {"domain": ["Control", "SOD1"], "range": ["#4f6ff0", "#cc0010"]}, "legend": null},
  "detail": {"field": "g", "type": "nominal"}}},
{"data": {"name": "pts"}, "transform": [{"filter": "datum.p == 'F'"}, {"fold": ["Control", "SOD1"], "as": ["s", "v"]}], "mark": {"type": "point", "filled": true, "opacity": 1, "strokeWidth": 0},
 "encoding": {"x": {"field": "c", "type": "quantitative", "scale": {"domain": [-0.42, 22.56], "nice": false}, "axis": null},
  "y": {"field": "v", "type": "quantitative", "scale": {"domain": [0, 90], "nice": false}, "axis": null},
  "color": {"field": "s", "type": "nominal", "scale": {"domain": ["Control", "SOD1"], "range": ["#4f6ff0", "#cc0010"]}, "legend": null},
  "shape": {"field": "s", "type": "nominal", "scale": {"domain": ["Control", "SOD1"], "range": ["diamond", "square"]}, "legend": null},
  "size": {"field": "s", "type": "ordinal", "scale": {"domain": ["Control", "SOD1"], "range": [27, 30]}, "legend": null}}},
{"data": {"name": "sig"}, "transform": [{"filter": "datum.p == 'F'"}], "mark": {"type": "rule", "color": "#222", "strokeWidth": 1.3},
 "encoding": {"x": {"field": "x", "type": "quantitative", "scale": {"domain": [0, 100], "nice": false}, "axis": null}, "x2": {"field": "x2"},
  "y": {"field": "y", "type": "quantitative", "scale": {"domain": [0, 90], "nice": false}, "axis": null}}},
{"data": {"name": "sig"}, "transform": [{"filter": "datum.p == 'F'"}, {"calculate": "(datum.x + datum.x2) / 2", "as": "m"}], "mark": {"type": "text", "fontSize": 8, "baseline": "alphabetic", "dy": 1},
 "encoding": {"x": {"field": "m", "type": "quantitative", "scale": {"domain": [0, 100], "nice": false}, "axis": null},
  "y": {"field": "y", "type": "quantitative", "scale": {"domain": [0, 90], "nice": false}, "axis": null}, "text": {"field": "t"}}},
{"data": {"name": "wL"}, "mark": {"type": "area", "color": "#000"},
 "encoding": {"x": {"field": "x", "type": "quantitative", "scale": {"domain": [0, 100], "nice": false}, "axis": null},
  "y": {"field": "r", "type": "quantitative", "scale": {"domain": [0, 1], "range": [134.5, 126], "nice": false}, "axis": null}, "y2": {"datum": 0}, "detail": {"field": "w", "type": "nominal"}}},
{"data": {"name": "sL"}, "transform": [{"filter": "datum.k == 'b'"}], "mark": {"type": "rule", "color": "#000", "strokeWidth": 2},
 "encoding": {"x": {"field": "x", "type": "quantitative", "scale": {"domain": [0, 100], "nice": false}, "axis": null}, "x2": {"field": "x2"},
  "y": {"datum": 15.5, "type": "quantitative", "scale": {"domain": [0, 50], "range": [122, 172], "nice": false}, "axis": null}}},
{"data": {"name": "sL"}, "transform": [{"filter": "datum.k == 'g'"}], "mark": {"type": "rule", "color": "#7a7a7a", "strokeWidth": 1.5},
 "encoding": {"x": {"field": "x", "type": "quantitative", "scale": {"domain": [0, 100], "nice": false}, "axis": null}, "x2": {"field": "x2"},
  "y": {"datum": 37.5, "type": "quantitative", "scale": {"domain": [0, 50], "range": [122, 172], "nice": false}, "axis": null}}},
{"data": {"name": "lab"}, "transform": [{"filter": "datum.k == 'age'"}], "mark": {"type": "text", "baseline": "middle"},
 "encoding": {"x": {"field": "xL", "type": "quantitative", "scale": {"domain": [0, 100], "nice": false}, "axis": null},
  "y": {"datum": 27, "type": "quantitative", "scale": {"domain": [0, 50], "range": [122, 172], "nice": false}, "axis": null}, "text": {"field": "axo"}}},
{"data": {"name": "lab"}, "transform": [{"filter": "datum.k == 'geno'"}], "mark": {"type": "text", "baseline": "middle"},
 "encoding": {"x": {"field": "xL", "type": "quantitative", "scale": {"domain": [0, 100], "nice": false}, "axis": null},
  "y": {"datum": 38.5, "type": "quantitative", "scale": {"domain": [0, 50], "range": [122, 172], "nice": false}, "axis": null}, "text": {"field": "axo"}}},
{"data": {"name": "titles"}, "transform": [{"filter": "datum.p == 'F'"}], "mark": {"type": "text", "fontWeight": "bold", "align": "left", "baseline": "middle"},
 "encoding": {"x": {"datum": -8.6, "type": "quantitative", "scale": {"domain": [0, 100], "nice": false}, "axis": null},
  "y": {"datum": 12, "type": "quantitative", "scale": {"domain": [0, 50], "range": [0, -50], "nice": false}, "axis": null}, "text": {"field": "L"}}},
{"data": {"name": "titles"}, "transform": [{"filter": "datum.p == 'F'"}], "mark": {"type": "text", "align": "left", "baseline": "middle", "dx": 6.7},
 "encoding": {"x": {"datum": -8.6, "type": "quantitative", "scale": {"domain": [0, 100], "nice": false}, "axis": null},
  "y": {"datum": 12, "type": "quantitative", "scale": {"domain": [0, 50], "range": [0, -50], "nice": false}, "axis": null}, "text": {"field": "t"}}}
]}
]},
{"spacing": 22, "hconcat": [
{"width": 273, "height": 123, "resolve": {"scale": {"x": "independent", "y": "independent"}}, "layer": [
{"data": {"name": "pts"}, "transform": [{"filter": "datum.p == 'G'"}, {"fold": ["Control", "SOD1"], "as": ["s", "v"]}], "mark": {"type": "line", "strokeWidth": 1.3},
 "encoding": {"x": {"field": "c", "type": "quantitative", "scale": {"domain": [-0.44, 23.49], "nice": false}, "axis": null},
  "y": {"field": "v", "type": "quantitative", "scale": {"domain": [0, 90], "nice": false}, "axis": {"values": [0, 10, 20, 30, 40, 50, 60, 70, 80, 90], "title": "% Frequency", "titleX": -24, "titleBaseline": "middle"}},
  "stroke": {"field": "s", "type": "nominal", "scale": {"domain": ["Control", "SOD1"], "range": ["#4f6ff0", "#cc0010"]}, "legend": null},
  "detail": {"field": "g", "type": "nominal"}}},
{"data": {"name": "pts"}, "transform": [{"filter": "datum.p == 'G'"}, {"fold": ["Control", "SOD1"], "as": ["s", "v"]}], "mark": {"type": "point", "filled": true, "opacity": 1, "strokeWidth": 0},
 "encoding": {"x": {"field": "c", "type": "quantitative", "scale": {"domain": [-0.44, 23.49], "nice": false}, "axis": null},
  "y": {"field": "v", "type": "quantitative", "scale": {"domain": [0, 90], "nice": false}, "axis": null},
  "color": {"field": "s", "type": "nominal", "scale": {"domain": ["Control", "SOD1"], "range": ["#4f6ff0", "#cc0010"]}, "legend": null},
  "shape": {"field": "s", "type": "nominal", "scale": {"domain": ["Control", "SOD1"], "range": ["diamond", "square"]}, "legend": null},
  "size": {"field": "s", "type": "ordinal", "scale": {"domain": ["Control", "SOD1"], "range": [27, 30]}, "legend": null}}},
{"data": {"name": "sig"}, "transform": [{"filter": "datum.p == 'G'"}], "mark": {"type": "rule", "color": "#222", "strokeWidth": 1.3},
 "encoding": {"x": {"field": "x", "type": "quantitative", "scale": {"domain": [0, 100], "nice": false}, "axis": null}, "x2": {"field": "x2"},
  "y": {"field": "y", "type": "quantitative", "scale": {"domain": [0, 90], "nice": false}, "axis": null}}},
{"data": {"name": "sig"}, "transform": [{"filter": "datum.p == 'G'"}, {"calculate": "(datum.x + datum.x2) / 2", "as": "m"}], "mark": {"type": "text", "fontSize": 8, "baseline": "alphabetic", "dy": 1},
 "encoding": {"x": {"field": "m", "type": "quantitative", "scale": {"domain": [0, 100], "nice": false}, "axis": null},
  "y": {"field": "y", "type": "quantitative", "scale": {"domain": [0, 90], "nice": false}, "axis": null}, "text": {"field": "t"}}},
{"data": {"name": "wE"}, "mark": {"type": "area", "color": "#000"},
 "encoding": {"x": {"field": "x", "type": "quantitative", "scale": {"domain": [0, 100], "nice": false}, "axis": null},
  "y": {"field": "r", "type": "quantitative", "scale": {"domain": [0, 1], "range": [135.5, 127], "nice": false}, "axis": null}, "y2": {"datum": 0}, "detail": {"field": "w", "type": "nominal"}}},
{"data": {"name": "sE"}, "transform": [{"filter": "datum.k == 'b'"}], "mark": {"type": "rule", "color": "#000", "strokeWidth": 2},
 "encoding": {"x": {"field": "x", "type": "quantitative", "scale": {"domain": [0, 100], "nice": false}, "axis": null}, "x2": {"field": "x2"},
  "y": {"datum": 15.5, "type": "quantitative", "scale": {"domain": [0, 50], "range": [123, 173], "nice": false}, "axis": null}}},
{"data": {"name": "sE"}, "transform": [{"filter": "datum.k == 'g'"}], "mark": {"type": "rule", "color": "#7a7a7a", "strokeWidth": 1.5},
 "encoding": {"x": {"field": "x", "type": "quantitative", "scale": {"domain": [0, 100], "nice": false}, "axis": null}, "x2": {"field": "x2"},
  "y": {"datum": 37.5, "type": "quantitative", "scale": {"domain": [0, 50], "range": [123, 173], "nice": false}, "axis": null}}},
{"data": {"name": "lab"}, "transform": [{"filter": "datum.k == 'age'"}], "mark": {"type": "text", "baseline": "middle"},
 "encoding": {"x": {"field": "xE", "type": "quantitative", "scale": {"domain": [0, 100], "nice": false}, "axis": null},
  "y": {"datum": 27, "type": "quantitative", "scale": {"domain": [0, 50], "range": [123, 173], "nice": false}, "axis": null}, "text": {"field": "axo"}}},
{"data": {"name": "lab"}, "transform": [{"filter": "datum.k == 'geno'"}], "mark": {"type": "text", "baseline": "middle"},
 "encoding": {"x": {"field": "xE", "type": "quantitative", "scale": {"domain": [0, 100], "nice": false}, "axis": null},
  "y": {"datum": 38.5, "type": "quantitative", "scale": {"domain": [0, 50], "range": [123, 173], "nice": false}, "axis": null}, "text": {"field": "axo"}}},
{"data": {"name": "titles"}, "transform": [{"filter": "datum.p == 'G'"}], "mark": {"type": "text", "fontWeight": "bold", "align": "left", "baseline": "middle"},
 "encoding": {"x": {"datum": -5.7, "type": "quantitative", "scale": {"domain": [0, 100], "nice": false}, "axis": null},
  "y": {"datum": 14, "type": "quantitative", "scale": {"domain": [0, 50], "range": [0, -50], "nice": false}, "axis": null}, "text": {"field": "L"}}},
{"data": {"name": "titles"}, "transform": [{"filter": "datum.p == 'G'"}], "mark": {"type": "text", "align": "left", "baseline": "middle", "dx": 8.6},
 "encoding": {"x": {"datum": -5.7, "type": "quantitative", "scale": {"domain": [0, 100], "nice": false}, "axis": null},
  "y": {"datum": 14, "type": "quantitative", "scale": {"domain": [0, 50], "range": [0, -50], "nice": false}, "axis": null}, "text": {"field": "t"}}}
]},
{"width": 272, "height": 123, "resolve": {"scale": {"x": "independent", "y": "independent"}}, "layer": [
{"data": {"name": "pts"}, "transform": [{"filter": "datum.p == 'H'"}, {"fold": ["Control", "SOD1"], "as": ["s", "v"]}], "mark": {"type": "line", "strokeWidth": 1.3},
 "encoding": {"x": {"field": "c", "type": "quantitative", "scale": {"domain": [-0.45, 22.56], "nice": false}, "axis": null},
  "y": {"field": "v", "type": "quantitative", "scale": {"domain": [0, 60], "nice": false}, "axis": {"values": [0, 10, 20, 30, 40, 50, 60], "title": "% Frequency", "titleX": -26.7, "titleBaseline": "middle"}},
  "stroke": {"field": "s", "type": "nominal", "scale": {"domain": ["Control", "SOD1"], "range": ["#4f6ff0", "#cc0010"]}, "legend": null},
  "detail": {"field": "g", "type": "nominal"}}},
{"data": {"name": "pts"}, "transform": [{"filter": "datum.p == 'H'"}, {"fold": ["Control", "SOD1"], "as": ["s", "v"]}], "mark": {"type": "point", "filled": true, "opacity": 1, "strokeWidth": 0},
 "encoding": {"x": {"field": "c", "type": "quantitative", "scale": {"domain": [-0.45, 22.56], "nice": false}, "axis": null},
  "y": {"field": "v", "type": "quantitative", "scale": {"domain": [0, 60], "nice": false}, "axis": null},
  "color": {"field": "s", "type": "nominal", "scale": {"domain": ["Control", "SOD1"], "range": ["#4f6ff0", "#cc0010"]}, "legend": null},
  "shape": {"field": "s", "type": "nominal", "scale": {"domain": ["Control", "SOD1"], "range": ["diamond", "square"]}, "legend": null},
  "size": {"field": "s", "type": "ordinal", "scale": {"domain": ["Control", "SOD1"], "range": [27, 30]}, "legend": null}}},
{"data": {"name": "sig"}, "transform": [{"filter": "datum.p == 'H'"}], "mark": {"type": "rule", "color": "#222", "strokeWidth": 1.3},
 "encoding": {"x": {"field": "x", "type": "quantitative", "scale": {"domain": [0, 100], "nice": false}, "axis": null}, "x2": {"field": "x2"},
  "y": {"field": "y", "type": "quantitative", "scale": {"domain": [0, 60], "nice": false}, "axis": null}}},
{"data": {"name": "sig"}, "transform": [{"filter": "datum.p == 'H'"}, {"calculate": "(datum.x + datum.x2) / 2", "as": "m"}], "mark": {"type": "text", "fontSize": 8, "baseline": "alphabetic", "dy": 1},
 "encoding": {"x": {"field": "m", "type": "quantitative", "scale": {"domain": [0, 100], "nice": false}, "axis": null},
  "y": {"field": "y", "type": "quantitative", "scale": {"domain": [0, 60], "nice": false}, "axis": null}, "text": {"field": "t"}}},
{"data": {"name": "wL"}, "mark": {"type": "area", "color": "#000"},
 "encoding": {"x": {"field": "x", "type": "quantitative", "scale": {"domain": [0, 100], "nice": false}, "axis": null},
  "y": {"field": "r", "type": "quantitative", "scale": {"domain": [0, 1], "range": [135.5, 127], "nice": false}, "axis": null}, "y2": {"datum": 0}, "detail": {"field": "w", "type": "nominal"}}},
{"data": {"name": "sL"}, "transform": [{"filter": "datum.k == 'b'"}], "mark": {"type": "rule", "color": "#000", "strokeWidth": 2},
 "encoding": {"x": {"field": "x", "type": "quantitative", "scale": {"domain": [0, 100], "nice": false}, "axis": null}, "x2": {"field": "x2"},
  "y": {"datum": 15.5, "type": "quantitative", "scale": {"domain": [0, 50], "range": [123, 173], "nice": false}, "axis": null}}},
{"data": {"name": "sL"}, "transform": [{"filter": "datum.k == 'g'"}], "mark": {"type": "rule", "color": "#7a7a7a", "strokeWidth": 1.5},
 "encoding": {"x": {"field": "x", "type": "quantitative", "scale": {"domain": [0, 100], "nice": false}, "axis": null}, "x2": {"field": "x2"},
  "y": {"datum": 37.5, "type": "quantitative", "scale": {"domain": [0, 50], "range": [123, 173], "nice": false}, "axis": null}}},
{"data": {"name": "lab"}, "transform": [{"filter": "datum.k == 'age'"}], "mark": {"type": "text", "baseline": "middle"},
 "encoding": {"x": {"field": "xL", "type": "quantitative", "scale": {"domain": [0, 100], "nice": false}, "axis": null},
  "y": {"datum": 27, "type": "quantitative", "scale": {"domain": [0, 50], "range": [123, 173], "nice": false}, "axis": null}, "text": {"field": "axo"}}},
{"data": {"name": "lab"}, "transform": [{"filter": "datum.k == 'geno'"}], "mark": {"type": "text", "baseline": "middle"},
 "encoding": {"x": {"field": "xL", "type": "quantitative", "scale": {"domain": [0, 100], "nice": false}, "axis": null},
  "y": {"datum": 38.5, "type": "quantitative", "scale": {"domain": [0, 50], "range": [123, 173], "nice": false}, "axis": null}, "text": {"field": "axo"}}},
{"data": {"name": "titles"}, "transform": [{"filter": "datum.p == 'H'"}], "mark": {"type": "text", "fontWeight": "bold", "align": "left", "baseline": "middle"},
 "encoding": {"x": {"datum": -8.2, "type": "quantitative", "scale": {"domain": [0, 100], "nice": false}, "axis": null},
  "y": {"datum": 14, "type": "quantitative", "scale": {"domain": [0, 50], "range": [0, -50], "nice": false}, "axis": null}, "text": {"field": "L"}}},
{"data": {"name": "titles"}, "transform": [{"filter": "datum.p == 'H'"}], "mark": {"type": "text", "align": "left", "baseline": "middle", "dx": 7.9},
 "encoding": {"x": {"datum": -8.2, "type": "quantitative", "scale": {"domain": [0, 100], "nice": false}, "axis": null},
  "y": {"datum": 14, "type": "quantitative", "scale": {"domain": [0, 50], "range": [0, -50], "nice": false}, "axis": null}, "text": {"field": "t"}}}
]}
]}
]}
]
}
